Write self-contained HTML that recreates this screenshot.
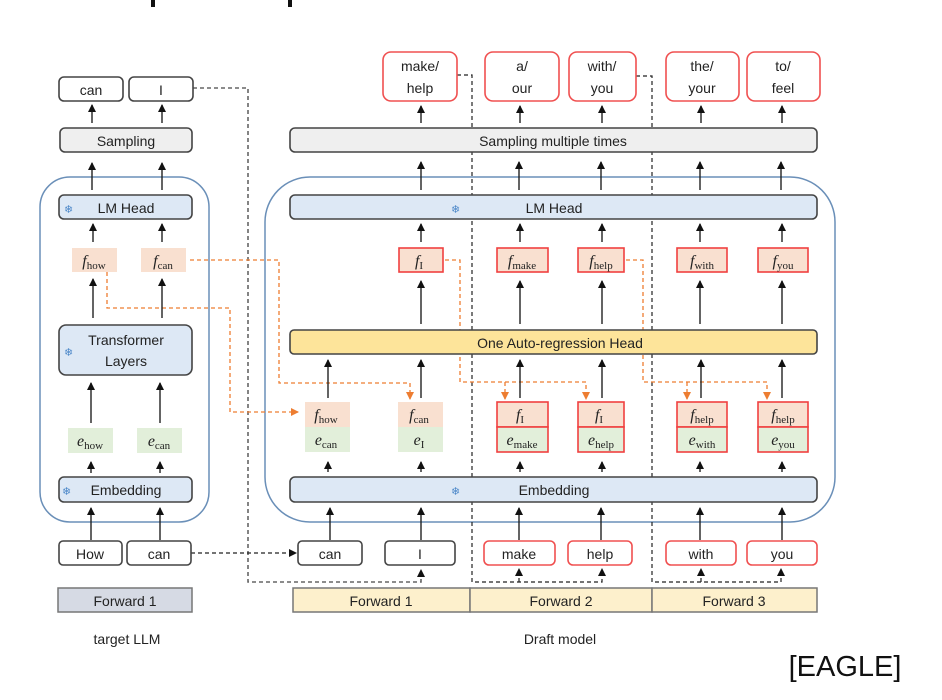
<!DOCTYPE html>
<html><head><meta charset="utf-8"><style>
body{margin:0;background:#fff;}
svg{display:block;font-family:"Liberation Sans",sans-serif;}
.b{stroke:#444;stroke-width:1.6;}
.t{font-size:14px;fill:#222;text-anchor:middle;}
.m{font-family:"Liberation Serif",serif;font-size:16px;fill:#222;text-anchor:middle;font-style:italic;}
.s{font-size:11px;font-style:normal;}
</style></head><body>
<svg width="942" height="700" viewBox="0 0 942 700">
<defs>
<marker id="ak" markerWidth="8" markerHeight="8" refX="7" refY="4" orient="auto" markerUnits="userSpaceOnUse"><path d="M0,0 L8,4 L0,8z" fill="#111"/></marker>
<marker id="ao" markerWidth="8" markerHeight="8" refX="7" refY="4" orient="auto" markerUnits="userSpaceOnUse"><path d="M0,0 L8,4 L0,8z" fill="#ed7d31"/></marker>
</defs>
<rect x="151" y="0" width="4" height="7" fill="#111"/><rect x="288" y="0" width="4" height="7" fill="#111"/>

<rect x="40" y="177" width="169" height="345" rx="30" fill="none" stroke="#6a8fb8" stroke-width="1.5"/>
<rect x="265" y="177" width="570" height="345" rx="45" fill="none" stroke="#6a8fb8" stroke-width="1.5"/>

<g fill="none" stroke-dasharray="4,3">
<path d="M193,88 H248 V582 H421 V570" stroke="#666" stroke-width="1.6" marker-end="url(#ak)"/>
<path d="M191,553 H296" stroke="#222" stroke-width="1.3" marker-end="url(#ak)"/>
<path d="M457,75 H472 V582 H602 V569" stroke="#222" stroke-width="1.2" marker-end="url(#ak)"/>
<path d="M519,582 V569" stroke="#222" stroke-width="1.2" marker-end="url(#ak)"/>
<path d="M636,76 H652 V582 H781 V569" stroke="#222" stroke-width="1.2" marker-end="url(#ak)"/>
<path d="M701,582 V569" stroke="#222" stroke-width="1.2" marker-end="url(#ak)"/>
<g stroke="#ed7d31" stroke-width="1.3">
<path d="M107,272 V308 H230 V412 H298" marker-end="url(#ao)"/>
<path d="M190,260 H279 V383 H410 V399" marker-end="url(#ao)"/>
<path d="M445,260 H460 V382 H586 V399" marker-end="url(#ao)"/>
<path d="M505,382 V399" marker-end="url(#ao)"/>
<path d="M626,260 H643 V382 H767 V399" marker-end="url(#ao)"/>
<path d="M687,382 V399" marker-end="url(#ao)"/>
</g></g>

<g stroke="#222" stroke-width="1.4" marker-end="url(#ak)">
<path d="M92,123 V105"/><path d="M162,123 V105"/>
<path d="M92,190 V163"/><path d="M162,190 V163"/>
<path d="M93,242 V224"/><path d="M162,242 V224"/>
<path d="M93,318 V279"/><path d="M162,318 V279"/>
<path d="M91,423 V383"/><path d="M160,423 V383"/>
<path d="M91,473 V462"/><path d="M160,473 V462"/>
<path d="M91,540 V508"/><path d="M160,540 V508"/>
</g>
<g stroke="#222" stroke-width="1.4" marker-end="url(#ak)">
<path d="M421,123 V106"/><path d="M520,123 V106"/><path d="M602,123 V106"/><path d="M701,123 V106"/><path d="M782,123 V106"/>
<path d="M421,190 V162"/><path d="M519,190 V162"/><path d="M601,190 V162"/><path d="M700,190 V162"/><path d="M781,190 V162"/>
<path d="M421,242 V224"/><path d="M520,242 V224"/><path d="M602,242 V224"/><path d="M700,242 V224"/><path d="M782,242 V224"/>
<path d="M421,324 V281"/><path d="M520,324 V281"/><path d="M602,324 V281"/><path d="M700,324 V281"/><path d="M782,324 V281"/>
<path d="M328,398 V360"/><path d="M421,398 V360"/><path d="M520,398 V360"/><path d="M602,398 V360"/><path d="M701,398 V360"/><path d="M782,398 V360"/>
<path d="M328,472 V462"/><path d="M421,472 V462"/><path d="M520,472 V462"/><path d="M602,472 V462"/><path d="M700,472 V462"/><path d="M782,472 V462"/>
<path d="M330,540 V508"/><path d="M421,540 V508"/><path d="M519,540 V508"/><path d="M601,540 V508"/><path d="M700,540 V508"/><path d="M782,540 V508"/>
</g>

<rect class="b" x="59" y="77" width="64" height="24" rx="5" fill="#fff"/><text class="t" x="91" y="95">can</text>
<rect class="b" x="129" y="77" width="64" height="24" rx="5" fill="#fff"/><text class="t" x="161" y="95">I</text>
<rect class="b" x="60" y="128" width="132" height="24" rx="5" fill="#efefef"/><text class="t" x="126" y="146">Sampling</text>
<rect class="b" x="59" y="195" width="133" height="24" rx="5" fill="#dde8f5"/><text class="t" x="126" y="213">LM Head</text><text x="64" y="213" font-size="11" fill="#4a86c8">❄</text>
<rect x="72" y="248" width="45" height="24" fill="#f9e0d0"/><text class="m" x="94" y="266">f<tspan class="s" dy="3">how</tspan></text>
<rect x="141" y="248" width="45" height="24" fill="#f9e0d0"/><text class="m" x="163" y="266">f<tspan class="s" dy="3">can</tspan></text>
<rect class="b" x="59" y="325" width="133" height="50" rx="7" fill="#dde8f5"/><text class="t" x="126" y="345">Transformer</text><text class="t" x="126" y="366">Layers</text><text x="64" y="356" font-size="11" fill="#4a86c8">❄</text>
<rect x="68" y="428" width="45" height="25" fill="#e2efda"/><text class="m" x="90" y="446">e<tspan class="s" dy="3">how</tspan></text>
<rect x="137" y="428" width="45" height="25" fill="#e2efda"/><text class="m" x="159" y="446">e<tspan class="s" dy="3">can</tspan></text>
<rect class="b" x="59" y="477" width="133" height="25" rx="5" fill="#dde8f5"/><text class="t" x="126" y="495">Embedding</text><text x="62" y="495" font-size="11" fill="#4a86c8">❄</text>
<rect class="b" x="59" y="541" width="63" height="24" rx="4" fill="#fff"/><text class="t" x="90" y="559">How</text>
<rect class="b" x="127" y="541" width="64" height="24" rx="4" fill="#fff"/><text class="t" x="159" y="559">can</text>
<rect x="58" y="588" width="134" height="24" fill="#d6dae4" stroke="#777" stroke-width="1.5"/><text class="t" x="125" y="606">Forward 1</text>
<text class="t" x="127" y="644" font-size="13">target LLM</text>

<rect class="b" x="290" y="128" width="527" height="24" rx="5" fill="#efefef"/><text class="t" x="553" y="146">Sampling multiple times</text>
<rect class="b" x="290" y="195" width="527" height="24" rx="5" fill="#dde8f5"/><text class="t" x="554" y="213">LM Head</text><text x="451" y="213" font-size="11" fill="#4a86c8">❄</text>
<rect class="b" x="290" y="330" width="527" height="24" rx="4" fill="#fde49a"/><text class="t" x="560" y="348">One Auto-regression Head</text>
<rect class="b" x="290" y="477" width="527" height="25" rx="5" fill="#dde8f5"/><text class="t" x="554" y="495">Embedding</text><text x="451" y="495" font-size="11" fill="#4a86c8">❄</text>

<g stroke="#f05050" stroke-width="1.6" fill="#fff">
<rect x="383" y="52" width="74" height="49" rx="8"/><rect x="485" y="52" width="74" height="49" rx="8"/><rect x="569" y="52" width="67" height="49" rx="8"/><rect x="666" y="52" width="73" height="49" rx="8"/><rect x="747" y="52" width="73" height="49" rx="8"/>
</g>
<text class="t" x="420" y="71">make/</text><text class="t" x="420" y="93">help</text>
<text class="t" x="522" y="71">a/</text><text class="t" x="522" y="93">our</text>
<text class="t" x="602" y="71">with/</text><text class="t" x="602" y="93">you</text>
<text class="t" x="702" y="71">the/</text><text class="t" x="702" y="93">your</text>
<text class="t" x="783" y="71">to/</text><text class="t" x="783" y="93">feel</text>

<g fill="#f9e0d0" stroke="#f04040" stroke-width="1.6">
<rect x="399" y="248" width="44" height="24"/><rect x="497" y="248" width="51" height="24"/><rect x="578" y="248" width="46" height="24"/><rect x="677" y="248" width="50" height="24"/><rect x="758" y="248" width="50" height="24"/>
</g>
<text class="m" x="419" y="266">f<tspan class="s" dy="3">I</tspan></text>
<text class="m" x="522" y="266">f<tspan class="s" dy="3">make</tspan></text>
<text class="m" x="601" y="266">f<tspan class="s" dy="3">help</tspan></text>
<text class="m" x="702" y="266">f<tspan class="s" dy="3">with</tspan></text>
<text class="m" x="783" y="266">f<tspan class="s" dy="3">you</tspan></text>

<rect x="305" y="402" width="45" height="25" fill="#f9e0d0"/><rect x="305" y="427" width="45" height="25" fill="#e2efda"/>
<rect x="398" y="402" width="45" height="25" fill="#f9e0d0"/><rect x="398" y="427" width="45" height="25" fill="#e2efda"/>
<g stroke="#f04040" stroke-width="1.6">
<rect x="497" y="402" width="51" height="25" fill="#f9e0d0"/><rect x="497" y="427" width="51" height="25" fill="#e2efda"/>
<rect x="578" y="402" width="46" height="25" fill="#f9e0d0"/><rect x="578" y="427" width="46" height="25" fill="#e2efda"/>
<rect x="677" y="402" width="50" height="25" fill="#f9e0d0"/><rect x="677" y="427" width="50" height="25" fill="#e2efda"/>
<rect x="758" y="402" width="50" height="25" fill="#f9e0d0"/><rect x="758" y="427" width="50" height="25" fill="#e2efda"/>
</g>
<text class="m" x="326" y="420">f<tspan class="s" dy="3">how</tspan></text><text class="m" x="326" y="445">e<tspan class="s" dy="3">can</tspan></text>
<text class="m" x="419" y="420">f<tspan class="s" dy="3">can</tspan></text><text class="m" x="419" y="445">e<tspan class="s" dy="3">I</tspan></text>
<text class="m" x="520" y="420">f<tspan class="s" dy="3">I</tspan></text><text class="m" x="522" y="445">e<tspan class="s" dy="3">make</tspan></text>
<text class="m" x="599" y="420">f<tspan class="s" dy="3">I</tspan></text><text class="m" x="601" y="445">e<tspan class="s" dy="3">help</tspan></text>
<text class="m" x="702" y="420">f<tspan class="s" dy="3">help</tspan></text><text class="m" x="702" y="445">e<tspan class="s" dy="3">with</tspan></text>
<text class="m" x="783" y="420">f<tspan class="s" dy="3">help</tspan></text><text class="m" x="783" y="445">e<tspan class="s" dy="3">you</tspan></text>

<rect class="b" x="298" y="541" width="64" height="24" rx="4" fill="#fff"/><text class="t" x="330" y="559">can</text>
<rect class="b" x="385" y="541" width="70" height="24" rx="4" fill="#fff"/><text class="t" x="420" y="559">I</text>
<g stroke="#f05050" stroke-width="1.6" fill="#fff">
<rect x="484" y="541" width="71" height="24" rx="5"/><rect x="568" y="541" width="64" height="24" rx="5"/><rect x="666" y="541" width="70" height="24" rx="5"/><rect x="747" y="541" width="70" height="24" rx="5"/>
</g>
<text class="t" x="519" y="559">make</text><text class="t" x="600" y="559">help</text><text class="t" x="701" y="559">with</text><text class="t" x="782" y="559">you</text>

<g fill="#fdf0cc" stroke="#777" stroke-width="1.5">
<rect x="293" y="588" width="177" height="24"/><rect x="470" y="588" width="182" height="24"/><rect x="652" y="588" width="165" height="24"/>
</g>
<text class="t" x="381" y="606">Forward 1</text><text class="t" x="561" y="606">Forward 2</text><text class="t" x="734" y="606">Forward 3</text>
<text class="t" x="560" y="644" font-size="13">Draft model</text>
<text x="845" y="676" font-size="29" fill="#111" text-anchor="middle">[EAGLE]</text>
</svg>
</body></html>
